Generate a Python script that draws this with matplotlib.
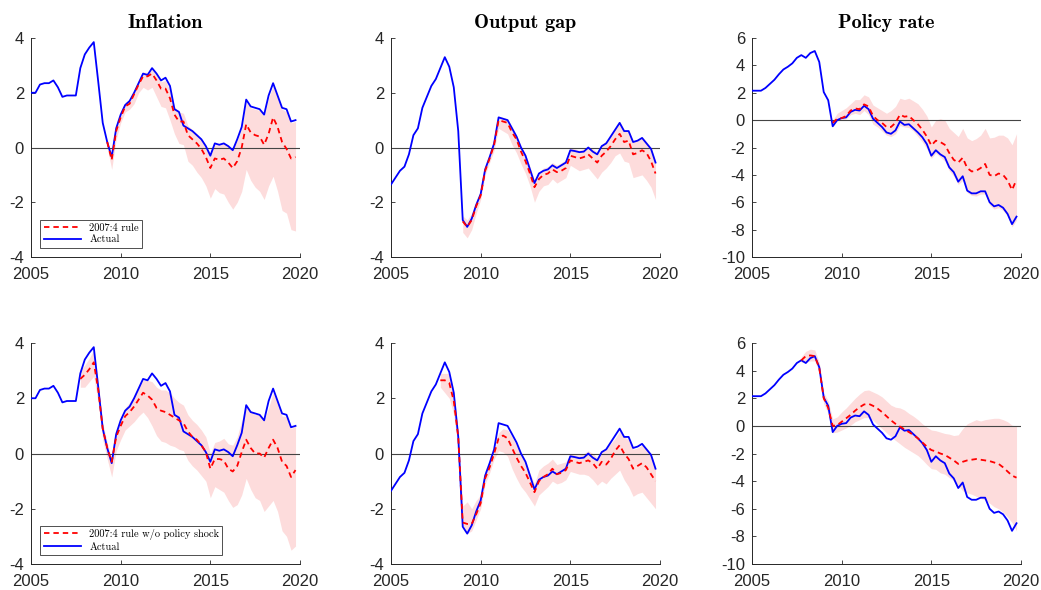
import numpy as np
import matplotlib.pyplot as plt

plt.rcParams['font.family'] = 'Liberation Sans'
plt.rcParams['axes.unicode_minus'] = False

# quarterly dates, 2005Q1 .. 2019Q4
dates = 2005 + 0.25 * np.arange(60)

infl_actual = [2.0, 2.0, 2.3, 2.35, 2.35, 2.45, 2.2, 1.85, 1.9, 1.9, 1.9, 2.9,
               3.4, 3.65, 3.85, 2.4, 0.9, 0.2, -0.35, 0.7, 1.2, 1.55, 1.7, 2.0,
               2.35, 2.7, 2.65, 2.9, 2.7, 2.45, 2.55, 2.25, 1.4, 1.3, 0.8, 0.7,
               0.6, 0.45, 0.3, 0.05, -0.3, 0.15, 0.1, 0.15, 0.05, -0.1, 0.3, 0.75,
               1.75, 1.5, 1.45, 1.4, 1.2, 1.9, 2.35, 1.9, 1.45, 1.4, 0.95, 1.0]
gap_actual = [-1.35, -1.1, -0.85, -0.7, -0.25, 0.45, 0.7, 1.45, 1.85, 2.25, 2.5, 2.9,
              3.3, 2.95, 2.2, 0.6, -2.65, -2.9, -2.6, -2.1, -1.7, -0.8, -0.35, 0.15,
              1.1, 1.05, 1.0, 0.7, 0.4, 0.0, -0.3, -0.8, -1.3, -0.95, -0.85, -0.8,
              -0.65, -0.75, -0.65, -0.55, -0.1, -0.13, -0.17, -0.15, 0.0, -0.15, -0.25, 0.05,
              0.15, 0.4, 0.65, 0.9, 0.6, 0.6, 0.2, 0.25, 0.35, 0.15, -0.05, -0.55]
rate_actual = [2.15, 2.15, 2.15, 2.35, 2.65, 2.95, 3.35, 3.7, 3.9, 4.15, 4.55, 4.75,
               4.55, 4.9, 5.05, 4.25, 2.05, 1.45, -0.45, 0.0, 0.15, 0.2, 0.6, 0.75,
               0.7, 1.05, 0.8, 0.1, -0.2, -0.5, -0.9, -1.0, -0.75, -0.1, -0.35, -0.3,
               -0.6, -0.9, -1.25, -1.75, -2.6, -2.2, -2.5, -2.7, -3.45, -3.8, -4.5, -4.1,
               -5.15, -5.35, -5.35, -5.2, -5.2, -6.0, -6.3, -6.2, -6.4, -6.85, -7.6, -7.05]

# 2007:4 rule counterfactuals (top row), median and band
infl_rule_start = 2009.25
infl_rule = [0.2, -0.45, 0.6, 1.1, 1.5, 1.6, 1.95, 2.3, 2.6, 2.6, 2.7,
             2.45, 2.15, 2.15, 1.8, 1.2, 0.95, 0.95, 0.45, 0.3, 0.15, -0.05, -0.35,
             -0.75, -0.4, -0.45, -0.4, -0.55, -0.75, -0.5, 0.0, 0.85, 0.55, 0.45, 0.4,
             0.1, 0.5, 1.1, 0.75, 0.2, -0.05, -0.4, -0.35]
infl_rule_lo = [0.0, -0.8, 0.3, 0.9, 1.3, 1.4, 1.6, 2.0, 2.2, 2.1, 2.2,
                1.85, 1.5, 1.45, 1.0, 0.5, 0.15, 0.1, -0.5, -0.65, -0.9, -1.1, -1.4,
                -1.85, -1.5, -1.65, -1.7, -2.0, -2.25, -2.0, -1.6, -0.8, -1.2, -1.45, -1.6,
                -1.9, -1.4, -1.05, -1.6, -2.3, -2.4, -3.0, -3.05]
infl_rule_hi = [0.3, -0.3, 0.75, 1.25, 1.65, 1.75, 2.1, 2.45, 2.75, 2.75, 2.85,
                2.65, 2.4, 2.45, 2.1, 1.5, 1.3, 1.25, 0.8, 0.65, 0.5, 0.3, 0.05,
                -0.2, 0.1, 0.1, 0.2, 0.05, -0.05, 0.25, 0.7, 1.65, 1.45, 1.4, 1.35,
                1.15, 1.8, 2.25, 1.85, 1.4, 1.3, 0.9, 0.95]

gap_rule_start = 2009.0
gap_rule = [-2.7, -2.9, -2.65, -2.15, -1.75, -0.85, -0.4, 0.1, 1.0, 0.95, 0.9, 0.55,
            0.3, -0.15, -0.5, -0.95, -1.45, -1.15, -1.0, -0.95, -0.8, -0.9, -0.85, -0.75,
            -0.3, -0.35, -0.4, -0.35, -0.25, -0.4, -0.55, -0.3, -0.15, 0.05, 0.3, 0.5,
            0.2, 0.25, -0.25, -0.2, -0.1, -0.2, -0.5, -0.95]
gap_rule_lo = [-3.1, -3.3, -3.0, -2.4, -1.9, -1.0, -0.55, -0.1, 0.7, 0.6, 0.5, 0.1,
               -0.2, -0.6, -0.95, -1.4, -2.0, -1.6, -1.4, -1.35, -1.15, -1.3, -1.2, -1.1,
               -0.65, -0.75, -0.85, -0.8, -0.75, -0.95, -1.15, -0.9, -0.75, -0.55, -0.3, -0.2,
               -0.5, -0.55, -1.1, -1.05, -1.0, -1.2, -1.45, -1.9]
gap_rule_hi = [-2.5, -2.65, -2.4, -1.95, -1.6, -0.7, -0.25, 0.25, 1.15, 1.1, 1.05, 0.75,
               0.45, 0.05, -0.25, -0.7, -1.2, -0.9, -0.75, -0.7, -0.55, -0.65, -0.55, -0.45,
               0.0, -0.05, -0.1, -0.05, 0.05, -0.05, -0.15, 0.1, 0.25, 0.45, 0.7, 0.95,
               0.65, 0.65, 0.25, 0.3, 0.4, 0.2, 0.0, -0.5]

rate_rule_start = 2009.5
rate_rule = [-0.2, 0.1, 0.15, 0.3, 0.7, 0.85, 0.8, 1.15, 1.0, 0.3,
             0.0, -0.2, -0.5, -0.5, -0.2, 0.4, 0.25, 0.3, 0.0, -0.3, -0.7, -1.2,
             -1.85, -1.5, -1.6, -1.8, -2.4, -2.9, -3.1, -2.75, -3.5, -3.75, -3.7, -3.5,
             -3.2, -4.0, -4.1, -3.9, -4.0, -4.4, -5.1, -4.35]
rate_rule_lo = [-0.5, -0.05, 0.0, 0.1, 0.4, 0.5, 0.4, 0.7, 0.4, -0.3,
                -0.5, -0.8, -1.1, -1.2, -1.0, -0.4, -0.5, -0.55, -0.8, -1.2, -1.6, -2.1,
                -2.8, -2.4, -2.7, -3.0, -3.7, -4.1, -4.7, -4.4, -5.3, -5.5, -5.55, -5.4,
                -5.4, -6.2, -6.5, -6.4, -6.6, -7.0, -7.8, -7.3]
rate_rule_hi = [0.0, 0.5, 0.7, 0.9, 1.2, 1.5, 1.5, 1.85, 1.7, 1.1,
                0.9, 0.7, 0.5, 0.7, 1.0, 1.6, 1.5, 1.6, 1.4, 1.2, 0.8, 0.3,
                -0.5, 0.0, 0.1, 0.0, -0.6, -0.9, -1.2, -0.6, -1.3, -1.5, -1.35, -1.1,
                -0.6, -1.3, -1.25, -1.1, -1.1, -1.3, -1.8, -1.0]

# 2007:4 rule without policy shock (bottom row), from 2007Q4
noshock_start = 2007.75
infl_ns = [2.7, 2.85, 3.05, 3.3, 2.3, 0.9, 0.2, -0.3, 0.6, 1.0, 1.35, 1.5, 1.7,
           1.95, 2.2, 2.1, 1.95, 1.65, 1.55, 1.5, 1.4, 1.3, 1.2, 1.1, 0.8,
           0.6, 0.5, 0.3, 0.05, -0.55, -0.2, -0.2, -0.25, -0.55, -0.65, -0.45, 0.05,
           0.5, 0.2, 0.0, 0.0, -0.15, 0.2, 0.5, 0.2, -0.3, -0.45, -0.85, -0.6]
infl_ns_lo = [2.4, 2.4, 2.6, 2.8, 1.8, 0.5, -0.2, -0.85, 0.1, 0.5, 0.85, 1.0, 1.15,
              1.35, 1.5, 1.3, 1.0, 0.65, 0.45, 0.4, 0.3, 0.25, 0.15, 0.1, -0.25,
              -0.45, -0.6, -0.8, -1.0, -1.6, -1.2, -1.3, -1.4, -1.7, -1.95, -1.85, -1.5,
              -0.9, -1.3, -1.6, -1.7, -2.1, -1.9, -1.7, -2.1, -2.8, -3.0, -3.5, -3.35]
infl_ns_hi = [3.0, 3.2, 3.45, 3.75, 2.6, 1.1, 0.4, -0.2, 0.8, 1.3, 1.65, 1.85, 2.1,
              2.4, 2.65, 2.65, 2.6, 2.4, 2.3, 2.3, 2.2, 2.0, 1.85, 1.75, 1.4,
              1.2, 1.05, 0.85, 0.6, 0.0, 0.4, 0.45, 0.55, 0.35, 0.3, 0.6, 1.2,
              1.75, 1.55, 1.4, 1.45, 1.2, 1.65, 2.2, 1.85, 1.35, 1.35, 0.9, 1.0]

gap_ns = [2.65, 2.65, 2.55, 1.9, 0.6, -2.5, -2.55, -2.55, -2.2, -1.8, -0.9, -0.5, 0.0,
          0.55, 0.65, 0.55, 0.2, -0.15, -0.45, -0.7, -1.05, -1.4, -1.0, -0.85, -0.75,
          -0.55, -0.75, -0.7, -0.6, -0.25, -0.3, -0.35, -0.3, -0.25, -0.35, -0.55, -0.3,
          -0.4, -0.2, 0.1, 0.3, 0.0, -0.2, -0.55, -0.45, -0.35, -0.5, -0.75, -1.0]
gap_ns_lo = [2.4, 2.2, 2.0, 1.4, 0.2, -2.7, -2.9, -2.8, -2.4, -2.0, -1.1, -0.7, -0.2,
             0.1, 0.05, -0.1, -0.55, -0.9, -1.2, -1.4, -1.65, -1.9, -1.5, -1.35, -1.2,
             -1.0, -1.1, -1.05, -0.95, -0.65, -0.7, -0.75, -0.75, -0.8, -0.95, -1.15, -1.0,
             -1.1, -0.9, -0.75, -0.6, -0.95, -1.2, -1.55, -1.45, -1.4, -1.6, -1.8, -2.0]
gap_ns_hi = [2.9, 2.9, 2.9, 2.2, 0.8, -1.9, -1.75, -2.0, -1.7, -1.5, -0.6, -0.3, 0.05,
             0.75, 0.9, 0.85, 0.6, 0.3, 0.0, -0.3, -0.7, -1.1, -0.6, -0.45, -0.35,
             -0.2, -0.4, -0.35, -0.3, 0.0, -0.05, -0.05, 0.0, 0.1, 0.0, -0.15, 0.05,
             0.2, 0.35, 0.55, 0.8, 0.6, 0.5, 0.15, 0.2, 0.3, 0.2, 0.0, -0.5]

rate_ns = [4.75, 5.05, 5.1, 5.05, 4.2, 2.0, 1.3, 0.0, 0.05, 0.3, 0.55, 0.8, 1.1,
           1.35, 1.55, 1.6, 1.45, 1.25, 1.0, 0.7, 0.4, 0.15, -0.05, -0.25, -0.45,
           -0.65, -0.9, -1.2, -1.5, -1.75, -1.85, -2.0, -2.1, -2.3, -2.5, -2.75, -2.6,
           -2.5, -2.45, -2.4, -2.45, -2.5, -2.55, -2.65, -2.75, -3.0, -3.3, -3.6, -3.75]
rate_ns_lo = [4.6, 4.6, 4.7, 4.7, 3.9, 1.6, 0.9, -0.5, -0.45, -0.3, -0.15, 0.05, 0.3,
              0.45, 0.6, 0.6, 0.4, 0.1, -0.2, -0.5, -0.8, -1.05, -1.3, -1.55, -1.75,
              -1.95, -2.15, -2.45, -2.8, -3.1, -3.15, -3.4, -3.5, -3.75, -3.95, -4.3, -4.7,
              -4.85, -4.95, -5.1, -5.25, -5.35, -5.6, -5.85, -6.0, -6.25, -6.6, -7.0, -7.6]
rate_ns_hi = [5.0, 5.4, 5.55, 5.5, 4.6, 2.4, 1.8, 0.5, 0.65, 1.0, 1.3, 1.65, 2.0,
              2.3, 2.55, 2.6, 2.45, 2.3, 2.1, 1.8, 1.5, 1.35, 1.3, 1.15, 0.9,
              0.7, 0.45, 0.15, -0.1, -0.3, -0.35, -0.45, -0.55, -0.6, -0.7, -0.65, -0.2,
              0.15, 0.3, 0.45, 0.35, 0.45, 0.5, 0.55, 0.55, 0.45, 0.3, 0.05, 0.0]

titles = ['Inflation', 'Output gap', 'Policy rate']
yticks_small = [-4, -2, 0, 2, 4]
yticks_rate = [-10, -8, -6, -4, -2, 0, 2, 4, 6]
xticks = [2005, 2010, 2015, 2020]

panels = [
    [(infl_actual, infl_rule_start, infl_rule, infl_rule_lo, infl_rule_hi, yticks_small),
     (gap_actual, gap_rule_start, gap_rule, gap_rule_lo, gap_rule_hi, yticks_small),
     (rate_actual, rate_rule_start, rate_rule, rate_rule_lo, rate_rule_hi, yticks_rate)],
    [(infl_actual, noshock_start, infl_ns, infl_ns_lo, infl_ns_hi, yticks_small),
     (gap_actual, noshock_start, gap_ns, gap_ns_lo, gap_ns_hi, yticks_small),
     (rate_actual, noshock_start, rate_ns, rate_ns_lo, rate_ns_hi, yticks_rate)],
]
legend_labels = ['2007:4 rule', '2007:4 rule w/o policy shock']

W, H = 1041, 590
lefts = [31, 391, 752]
tops = [38, 343]
bots = [257, 564]
axcol = '#262626'

fig = plt.figure(figsize=(W / 100, H / 100), dpi=100)
for r in range(2):
    for c in range(3):
        act, start, med, lo, hi, yt = panels[r][c]
        ax = fig.add_axes([lefts[c] / W, 1 - bots[r] / H, 269 / W, (bots[r] - tops[r]) / H])
        xs = start + 0.25 * np.arange(len(med))
        ax.fill_between(xs, lo, hi, color='#fddcdc', linewidth=0, zorder=1)
        ax.axhline(0, color='#444444', lw=0.8, zorder=2)
        l1, = ax.plot(xs, med, color='red', lw=1.3, ls=(0, (3, 2.2)), zorder=4)
        l2, = ax.plot(dates, act, color='blue', lw=1.3, zorder=3)
        ax.set_xlim(2005, 2020)
        ax.set_ylim(yt[0], yt[-1])
        ax.set_xticks(xticks)
        ax.set_yticks(yt)
        ax.spines['top'].set_visible(False)
        ax.spines['right'].set_visible(False)
        for s in ('left', 'bottom'):
            ax.spines[s].set_color(axcol)
            ax.spines[s].set_linewidth(0.7)
        ax.tick_params(direction='in', length=3, width=0.6, colors=axcol, labelsize=12)
        ax.tick_params(axis='x', pad=7)
        ax.tick_params(axis='y', pad=5)
        if r == 0:
            ax.set_title(titles[c], fontfamily='cmb10', fontsize=14.5, pad=7)
        if c == 0:
            leg = ax.legend([l1, l2], [legend_labels[r], 'Actual'], loc='lower left',
                            prop={'family': 'cmr10', 'size': 7.5}, handlelength=3.6,
                            borderaxespad=0.9, fancybox=False, framealpha=1,
                            edgecolor='#333333', borderpad=0.3, labelspacing=0.2)
            leg.get_frame().set_linewidth(0.6)

fig.savefig('out.png', dpi=100)
